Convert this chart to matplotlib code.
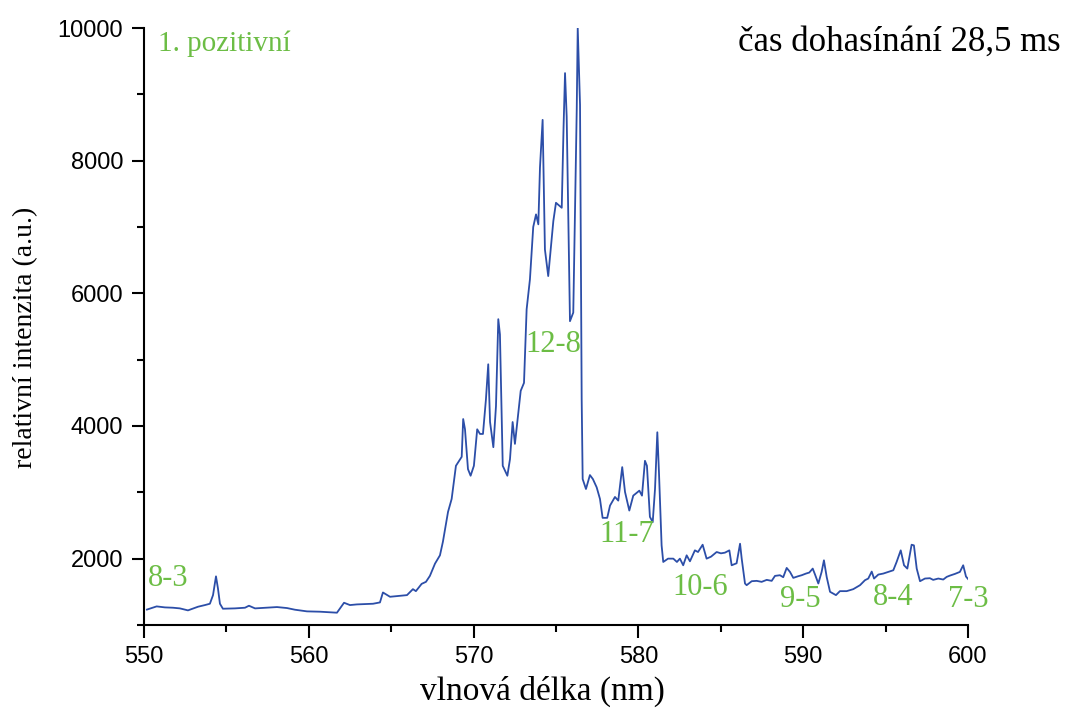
import numpy as np
import matplotlib
matplotlib.use("Agg")
import matplotlib.pyplot as plt
from matplotlib.ticker import MultipleLocator

# spektrum: vlnová délka (nm) a intenzita (a.u.)
wl = [550.18, 550.77, 551.27, 551.76, 552.18, 552.67, 553.28, 553.70, 554.00, 554.19,
      554.37, 554.49, 554.61, 554.79, 555.52, 556.13, 556.37, 556.74, 557.46, 558.07,
      558.68, 559.16, 559.89, 560.68, 561.71, 562.14, 562.50, 562.92, 563.90, 564.32,
      564.50, 564.93, 565.53, 565.96, 566.32, 566.50, 566.85, 567.11, 567.35, 567.66,
      567.96, 568.14, 568.45, 568.67, 568.93, 569.28, 569.37, 569.48, 569.66, 569.82,
      570.02, 570.22, 570.39, 570.57, 570.75, 570.89, 571.00, 571.20, 571.36, 571.50,
      571.60, 571.77, 572.05, 572.21, 572.37, 572.51, 572.86, 573.06, 573.22, 573.42,
      573.62, 573.79, 573.93, 574.03, 574.19, 574.33, 574.53, 574.84, 575.00, 575.35,
      575.46, 575.55, 575.65, 575.85, 576.05, 576.26, 576.32, 576.46, 576.56, 576.62,
      576.82, 577.06, 577.24, 577.47, 577.67, 577.83, 578.11, 578.28, 578.58, 578.78,
      579.02, 579.19, 579.45, 579.69, 580.06, 580.22, 580.40, 580.52, 580.70, 580.87,
      581.01, 581.15, 581.25, 581.41, 581.51, 581.80, 582.12, 582.34, 582.52, 582.72,
      582.93, 583.13, 583.43, 583.62, 583.90, 584.14, 584.41, 584.75, 585.01, 585.25,
      585.52, 585.66, 585.96, 586.17, 586.27, 586.47, 586.57, 586.88, 587.18, 587.48,
      587.79, 588.09, 588.29, 588.59, 588.79, 589.00, 589.20, 589.40, 589.70, 589.91,
      590.17, 590.37, 590.58, 590.72, 590.92, 591.12, 591.26, 591.43, 591.63, 591.99,
      592.23, 592.64, 593.04, 593.45, 593.75, 593.95, 594.16, 594.30, 594.56, 594.86,
      595.16, 595.47, 595.67, 595.92, 596.12, 596.32, 596.58, 596.72, 596.89, 597.09,
      597.39, 597.69, 597.89, 598.20, 598.50, 598.71, 598.91, 599.21, 599.51, 599.71,
      599.88, 600.12]
intenzita = [1232, 1280, 1265, 1260, 1250, 1220, 1275, 1300, 1320, 1450,
             1733, 1550, 1320, 1245, 1250, 1260, 1290, 1250, 1260, 1270,
             1255, 1230, 1205, 1200, 1185, 1335, 1300, 1310, 1320, 1340,
             1490, 1425, 1440, 1450, 1540, 1510, 1620, 1650, 1740, 1925,
             2050, 2255, 2705, 2900, 3400, 3535, 4105, 3950, 3350, 3250,
             3400, 3950, 3880, 3880, 4400, 4930, 4060, 3680, 4300, 5610,
             5380, 3400, 3250, 3500, 4060, 3730, 4530, 4650, 5760, 6210,
             7000, 7190, 7040, 7900, 8615, 6660, 6260, 7090, 7365, 7290,
             8500, 9320, 8665, 5580, 5710, 8770, 10000, 8840, 4405, 3200,
             3050, 3260, 3200, 3075, 2900, 2615, 2615, 2800, 2930, 2875,
             3380, 3005, 2725, 2950, 3025, 2950, 3475, 3400, 2630, 2550,
             3050, 3905, 3300, 2200, 1950, 2000, 2000, 1950, 2000, 1900,
             2050, 1960, 2125, 2100, 2210, 2000, 2030, 2100, 2080, 2090,
             2125, 1900, 1930, 2225, 2000, 1625, 1600, 1660, 1665, 1650,
             1680, 1665, 1740, 1750, 1720, 1860, 1800, 1710, 1735, 1750,
             1775, 1790, 1850, 1760, 1625, 1800, 1975, 1720, 1500, 1450,
             1510, 1510, 1540, 1600, 1675, 1700, 1805, 1700, 1760, 1775,
             1800, 1825, 1950, 2125, 1900, 1850, 2210, 2200, 1850, 1660,
             1700, 1705, 1680, 1700, 1685, 1725, 1745, 1770, 1800, 1900,
             1730, 1660]

pasy = ["8-3", "12-8", "11-7", "10-6", "9-5", "8-4", "7-3"]
pas_x = [550.24, 574.85, 579.31, 583.77, 589.84, 595.48, 600.03]
pas_y = [1698, 5226, 2365, 1567, 1386, 1416, 1386]

zelena = "#6cbd45"
modra = "#2c4ea8"

plt.rcParams["font.family"] = ["Liberation Sans", "DejaVu Sans"]

fig = plt.figure(figsize=(10.76, 7.11), dpi=100)
ax = fig.add_axes([0.1338, 0.121, 0.7658, 0.8396])

ax.plot(wl, intenzita, color=modra, lw=1.3)

ax.set_xlim(550, 600)
ax.set_ylim(1000, 10000)
ax.xaxis.set_major_locator(MultipleLocator(10))
ax.xaxis.set_minor_locator(MultipleLocator(5))
ax.yaxis.set_major_locator(MultipleLocator(2000))
ax.yaxis.set_minor_locator(MultipleLocator(1000))

for s in ["top", "right"]:
    ax.spines[s].set_visible(False)
for s in ["left", "bottom"]:
    ax.spines[s].set_linewidth(1.5)

ax.tick_params(which="major", direction="out", length=9, width=1.5, pad=6, labelsize=17)
ax.tick_params(which="minor", direction="out", length=5, width=1.5)

ax.set_xlabel("vlnová délka (nm)", family="Liberation Serif", fontsize=24)
ax.set_ylabel("relativní intenzita (a.u.)", family="Liberation Serif", fontsize=20)
ax.xaxis.set_label_coords(0.483, -0.085)
ax.yaxis.set_label_coords(-0.128, 0.481)

for t, x, y in zip(pasy, pas_x, pas_y):
    ha = "left" if t == "8-3" else "center"
    ax.text(x, y, t, color=zelena, family="Liberation Serif", fontsize=22,
            ha=ha, va="center", clip_on=False)

ax.text(550.85, 9760, "1. pozitivní", color=zelena, family="Liberation Serif",
        fontsize=21, ha="left", va="center")
fig.text(0.836, 0.941, "čas dohasínání 28,5 ms", color="black",
         family="Liberation Serif", fontsize=25, ha="center", va="center")

fig.savefig("out.png", dpi=100)
